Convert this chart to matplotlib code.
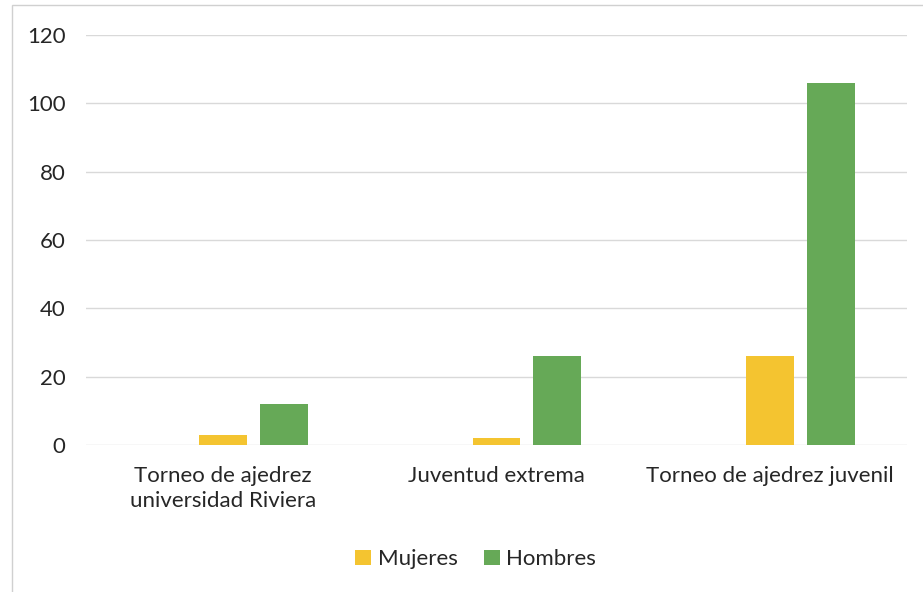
import numpy as np
import matplotlib.pyplot as plt
from matplotlib.patches import Rectangle

categories = ['Torneo de ajedrez\nuniversidad Riviera', 'Juventud extrema', 'Torneo de ajedrez juvenil']
mujeres = [3, 2, 26]
hombres = [12, 26, 106]
yticks = [0, 20, 40, 60, 80, 100, 120]

plt.rcParams['font.family'] = ['Lato', 'DejaVu Sans']

fig = plt.figure(figsize=(9.23, 5.92), dpi=100)
fig.patches.append(Rectangle((0.013, -0.01), 1.0, 1.002, transform=fig.transFigure,
                             fill=False, edgecolor='#d0d0d0', linewidth=1.0))
ax = fig.add_axes([0.0935, 0.2483, 0.8887, 0.6926])

x = np.arange(len(categories))
w = 0.175
ax.bar(x, mujeres, w, color='#F4C430', label='Mujeres', zorder=3)
ax.bar(x + 0.223, hombres, w, color='#66A957', label='Hombres', zorder=3)

ax.set_xlim(-0.5, 2.5)
ax.set_ylim(0, 120)
ax.set_yticks(yticks)
ax.set_xticks(x)
ax.set_xticklabels(categories, fontsize=16, color='#262626', linespacing=1.3)
ax.tick_params(axis='y', labelsize=16, labelcolor='#262626', length=0, pad=15)
ax.tick_params(axis='x', length=0, pad=15)
ax.grid(axis='y', color='#d9d9d9', linewidth=1.0, zorder=0)
for s in ax.spines.values():
    s.set_visible(False)

ax.legend(loc='upper center', bbox_to_anchor=(0.475, -0.205), ncol=2, frameon=False,
          fontsize=16, handlelength=0.7, handleheight=0.7, handletextpad=0.3,
          columnspacing=1.2, labelcolor='#262626')

fig.savefig('out.png', dpi=100)
